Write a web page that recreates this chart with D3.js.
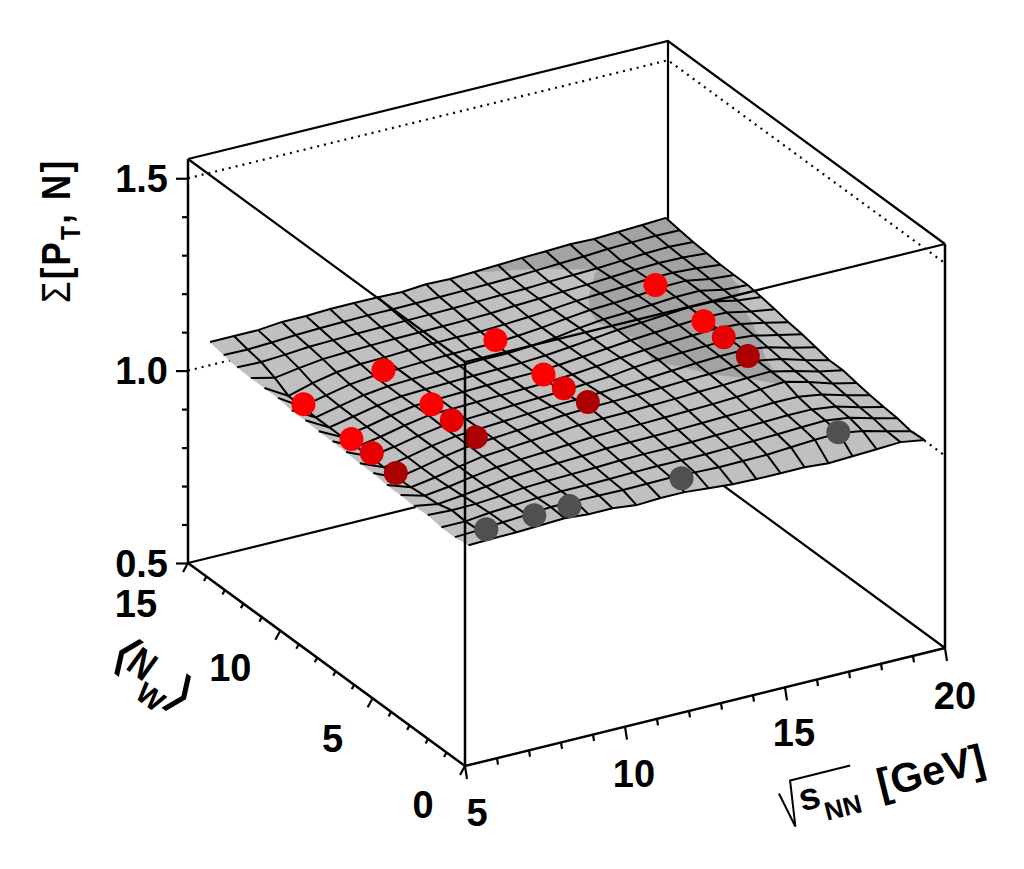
<!DOCTYPE html>
<html>
<head>
<meta charset="utf-8">
<script src="https://cdn.jsdelivr.net/npm/d3@7"></script>
<style>
body { margin: 0; background: #fff; }
text { font-family: "Liberation Sans", Arial, sans-serif; font-weight: bold; fill: #000; }
</style>
</head>
<body>
<div id="graph"></div>
<script>
// surface nodes
const surfaceX = [5.4, 6.15, 6.9, 7.65, 8.4, 9.15, 9.9, 10.65, 11.4, 12.15, 12.9, 13.65, 14.4, 15.15, 15.9, 16.65, 17.4, 18.15, 18.9, 19.65];
const surfaceN = [0.5, 1.24, 1.97, 2.71, 3.45, 4.18, 4.92, 5.66, 6.39, 7.13, 7.87, 8.61, 9.34, 10.08, 10.82, 11.55, 12.29, 13.03, 13.76, 14.5];
// one row per surfaceN value, front row first
const surfaceZ = [
  [1.048, 1.050, 1.051, 1.054, 1.057, 1.052, 1.052, 1.045, 1.048, 1.048, 1.043, 1.038, 1.036, 1.036, 1.036, 1.031, 1.034, 1.037, 1.040, 1.030],
  [1.043, 1.046, 1.051, 1.055, 1.060, 1.060, 1.059, 1.058, 1.059, 1.060, 1.058, 1.056, 1.057, 1.058, 1.062, 1.066, 1.068, 1.058, 1.042, 1.027],
  [1.043, 1.043, 1.050, 1.054, 1.058, 1.060, 1.060, 1.061, 1.063, 1.064, 1.064, 1.064, 1.066, 1.068, 1.070, 1.073, 1.075, 1.067, 1.050, 1.035],
  [1.049, 1.046, 1.047, 1.052, 1.058, 1.061, 1.063, 1.065, 1.068, 1.069, 1.069, 1.070, 1.072, 1.074, 1.076, 1.078, 1.078, 1.070, 1.053, 1.038],
  [1.046, 1.036, 1.043, 1.051, 1.059, 1.063, 1.066, 1.069, 1.073, 1.074, 1.075, 1.076, 1.078, 1.080, 1.082, 1.085, 1.085, 1.075, 1.058, 1.043],
  [1.049, 1.032, 1.040, 1.051, 1.060, 1.065, 1.069, 1.073, 1.077, 1.079, 1.080, 1.082, 1.084, 1.086, 1.089, 1.094, 1.098, 1.082, 1.063, 1.049],
  [1.049, 1.028, 1.038, 1.051, 1.062, 1.067, 1.072, 1.077, 1.082, 1.084, 1.085, 1.087, 1.089, 1.092, 1.094, 1.097, 1.099, 1.085, 1.068, 1.056],
  [1.054, 1.026, 1.038, 1.052, 1.063, 1.068, 1.073, 1.078, 1.083, 1.086, 1.087, 1.089, 1.092, 1.095, 1.097, 1.100, 1.101, 1.090, 1.072, 1.056],
  [1.054, 1.028, 1.039, 1.053, 1.063, 1.067, 1.071, 1.075, 1.079, 1.081, 1.084, 1.087, 1.091, 1.095, 1.099, 1.102, 1.103, 1.095, 1.078, 1.064],
  [1.057, 1.030, 1.040, 1.053, 1.063, 1.066, 1.069, 1.072, 1.075, 1.077, 1.081, 1.085, 1.093, 1.098, 1.101, 1.103, 1.105, 1.099, 1.085, 1.072],
  [1.059, 1.029, 1.040, 1.054, 1.065, 1.067, 1.069, 1.071, 1.073, 1.075, 1.079, 1.085, 1.092, 1.097, 1.101, 1.104, 1.107, 1.103, 1.091, 1.077],
  [1.059, 1.028, 1.040, 1.054, 1.064, 1.067, 1.069, 1.071, 1.073, 1.074, 1.078, 1.084, 1.090, 1.096, 1.101, 1.105, 1.109, 1.107, 1.094, 1.085],
  [1.062, 1.028, 1.041, 1.054, 1.063, 1.066, 1.068, 1.070, 1.072, 1.073, 1.077, 1.083, 1.090, 1.097, 1.101, 1.106, 1.110, 1.110, 1.097, 1.091],
  [1.062, 1.028, 1.042, 1.055, 1.063, 1.066, 1.068, 1.070, 1.072, 1.072, 1.076, 1.082, 1.092, 1.099, 1.102, 1.106, 1.111, 1.112, 1.099, 1.096],
  [1.068, 1.030, 1.044, 1.057, 1.064, 1.066, 1.069, 1.071, 1.072, 1.072, 1.076, 1.082, 1.090, 1.097, 1.100, 1.104, 1.111, 1.112, 1.101, 1.096],
  [1.068, 1.032, 1.050, 1.063, 1.069, 1.071, 1.074, 1.076, 1.077, 1.077, 1.080, 1.084, 1.089, 1.095, 1.099, 1.102, 1.106, 1.107, 1.103, 1.097],
  [1.068, 1.053, 1.063, 1.071, 1.074, 1.076, 1.078, 1.079, 1.080, 1.081, 1.083, 1.087, 1.090, 1.093, 1.096, 1.100, 1.104, 1.106, 1.105, 1.101],
  [1.070, 1.068, 1.072, 1.077, 1.079, 1.081, 1.082, 1.083, 1.084, 1.085, 1.087, 1.089, 1.090, 1.093, 1.095, 1.097, 1.101, 1.105, 1.107, 1.104],
  [1.076, 1.075, 1.078, 1.082, 1.084, 1.086, 1.087, 1.087, 1.088, 1.089, 1.090, 1.091, 1.093, 1.096, 1.099, 1.102, 1.106, 1.108, 1.110, 1.109],
  [1.084, 1.084, 1.084, 1.090, 1.090, 1.093, 1.093, 1.093, 1.091, 1.096, 1.094, 1.097, 1.100, 1.103, 1.105, 1.108, 1.106, 1.109, 1.112, 1.115]
];
const surfaceLevel = 1.097;

// red points: one row per energy, one column per Nw
const redEnergy = [6.3, 8.8, 12.3, 17.3];
const redNw = [11, 8.4, 7.3, 6];
const redColors = ["#ff0000", "#ff0000", "#e60000", "#ab0000"];
const redSigma = [
  [1.027, 1.028, 1.030, 1.024],
  [1.064, 1.067, 1.064, 1.066],
  [1.071, 1.073, 1.076, 1.086],
  [1.112, 1.109, 1.106, 1.103]
];
const grayEnergy = [6.3, 7.8, 8.9, 12.4, 17.3];
const grayNw = 1.1;
const graySigma = [1.05, 1.056, 1.057, 1.058, 1.077];

const xTicks = [5, 10, 15, 20];
const nTicks = [0, 5, 10, 15];
const zTicks = [0.5, 1.0, 1.5];

const width = 1024;
const height = 869;

const svg = d3.select("#graph")
  .append("svg")
  .attr("width", width)
  .attr("height", height);

const xScale = d3.scaleLinear().domain([5, 20]).range([0, 1]);
const nScale = d3.scaleLinear().domain([0, 15]).range([0, 1]);
const zScale = d3.scaleLinear().domain([0.5, 1.55]).range([0, -404]);

// oblique projection of the box, front corner at (465,766)
function project(x, n, z) {
  const u = xScale(x), v = nScale(n);
  return [465 + 480 * u - 277 * v, 766 - 118 * u - 203 * v + zScale(z)];
}

const line = d3.line();

function box(points, width, dash) {
  svg.append("path")
    .attr("d", line(points.map(p => project(p[0], p[1], p[2]))))
    .attr("fill", "none")
    .attr("stroke", "#000")
    .attr("stroke-width", width)
    .attr("stroke-dasharray", dash || null);
}

// back walls
box([[5, 15, 0.5], [20, 15, 0.5], [20, 0, 0.5]], 2.2);
box([[5, 15, 1.55], [20, 15, 1.55], [20, 0, 1.55]], 2.2);
box([[20, 15, 0.5], [20, 15, 1.55]], 2.2);
box([[20, 0, 0.5], [20, 0, 1.55]], 2.5);
box([[5, 15, 0.5], [5, 15, 1.55]], 2.5);
box([[5, 15, 0.5], [5, 0, 0.5], [20, 0, 0.5]], 2.5);
zTicks.slice(1).forEach(z => {
  box([[5, 15, z], [20, 15, z], [20, 0, z]], 2.2, "2 5");
});

// part of a cell above the level
function clipAbove(corners) {
  const out = [];
  corners.forEach((a, k) => {
    const b = corners[(k + 1) % corners.length];
    if (a[2] >= surfaceLevel) out.push(a);
    if ((a[2] >= surfaceLevel) !== (b[2] >= surfaceLevel)) {
      const t = (surfaceLevel - a[2]) / (b[2] - a[2]);
      out.push([a[0] + t * (b[0] - a[0]), a[1] + t * (b[1] - a[1]), surfaceLevel]);
    }
  });
  return out;
}

const surface = svg.append("g");
for (let j = surfaceN.length - 2; j >= 0; j--) {
  for (let i = surfaceX.length - 2; i >= 0; i--) {
    const corners = [[i, j], [i + 1, j], [i + 1, j + 1], [i, j + 1]]
      .map(c => [surfaceX[c[0]], surfaceN[c[1]], surfaceZ[c[1]][c[0]]]);
    surface.append("path")
      .attr("d", line(corners.map(c => project(c[0], c[1], c[2]))) + "Z")
      .attr("fill", "#c0c0c0")
      .attr("stroke", "#c0c0c0")
      .attr("stroke-width", 0.6);
    const upper = clipAbove(corners);
    if (upper.length > 2) {
      surface.append("path")
        .attr("d", line(upper.map(c => project(c[0], c[1], c[2]))) + "Z")
        .attr("fill", "#a3a3a3")
        .attr("stroke", "#a3a3a3")
        .attr("stroke-width", 0.6);
    }
  }
}
// mesh, the left edge of the surface has no line
surfaceN.forEach((n, j) => {
  surface.append("path")
    .attr("d", line(surfaceX.map((x, i) => project(x, n, surfaceZ[j][i]))))
    .attr("fill", "none").attr("stroke", "#000").attr("stroke-width", 2);
});
surfaceX.forEach((x, i) => {
  if (i === 0) return;
  surface.append("path")
    .attr("d", line(surfaceN.map((n, j) => project(x, n, surfaceZ[j][i]))))
    .attr("fill", "none").attr("stroke", "#000").attr("stroke-width", 2);
});

// points
const pointRadius = 12;
redEnergy.forEach((e, r) => {
  redNw.forEach((n, c) => {
    const p = project(e, n, redSigma[r][c]);
    svg.append("circle")
      .attr("cx", p[0]).attr("cy", p[1]).attr("r", pointRadius)
      .attr("fill", redColors[c]);
  });
});
grayEnergy.forEach((e, k) => {
  const p = project(e, grayNw, graySigma[k]);
  svg.append("circle")
    .attr("cx", p[0]).attr("cy", p[1]).attr("r", pointRadius)
    .attr("fill", "#505050");
});

// front edges go over the surface
box([[5, 15, 1.55], [5, 0, 1.55], [20, 0, 1.55]], 2.2);
box([[5, 0, 0.5], [5, 0, 1.55]], 2.5);

// z axis
const zOrigin = project(5, 15, 0.5);
const zAxis = svg.append("g")
  .attr("transform", `translate(${zOrigin[0]},${zOrigin[1]})`);
zAxis.call(d3.axisLeft(zScale)
  .tickValues(d3.range(0.5, 1.51, 0.1))
  .tickSize(6)
  .tickSizeOuter(0)
  .tickFormat(""));
zAxis.selectAll(".tick line")
  .attr("stroke-width", 2.2)
  .filter(d => Math.abs(d * 2 - Math.round(d * 2)) < 1e-6)
  .attr("x2", -12);
zAxis.select(".domain").attr("stroke", "none");
zTicks.forEach(z => {
  const p = project(5, 15, z);
  svg.append("text")
    .attr("x", p[0] - 20).attr("y", p[1] + 13.5)
    .attr("text-anchor", "end")
    .attr("font-size", 38)
    .text(z.toFixed(1));
});

// floor axes, ticks are slanted
function floorTicks(values, pos, dx, dy) {
  values.forEach(v => {
    const p = pos(v);
    const major = v % 5 === 0 ? 1 : 0.5;
    svg.append("line")
      .attr("x1", p[0]).attr("y1", p[1])
      .attr("x2", p[0] + dx * major).attr("y2", p[1] + dy * major)
      .attr("stroke", "#000").attr("stroke-width", 2.2);
  });
}
floorTicks(d3.range(5, 21), x => project(x, 0, 0.5), 2, 13);
floorTicks(d3.range(0, 16), n => project(5, n, 0.5), -5, 9);

const xLabelOffset = [[12, 46], [9, 47], [9, 45], [10, 47]];
xTicks.forEach((x, k) => {
  const p = project(x, 0, 0.5);
  svg.append("text")
    .attr("x", p[0] + xLabelOffset[k][0]).attr("y", p[1] + xLabelOffset[k][1] + 13.5)
    .attr("text-anchor", "middle")
    .attr("font-size", 38)
    .text(x);
});
const nLabelOffset = [[-42, 38], [-40, 40], [-50, 37], [-52, 40]];
nTicks.forEach((n, k) => {
  const p = project(5, n, 0.5);
  svg.append("text")
    .attr("x", p[0] + nLabelOffset[k][0]).attr("y", p[1] + nLabelOffset[k][1] + 13.5)
    .attr("text-anchor", "middle")
    .attr("font-size", 38)
    .text(n);
});

// z title
const zTitle = svg.append("text")
  .attr("transform", "translate(70,303) rotate(-90) scale(0.85,1)")
  .attr("font-size", 41)
  .style("letter-spacing", "2.6px");
zTitle.append("tspan").attr("font-weight", "normal").text("Σ");
zTitle.append("tspan").text("[P");
zTitle.append("tspan").attr("font-size", 27).attr("dy", 10).text("T");
zTitle.append("tspan").attr("dy", -10).text(", N]");

// Nw title
const nTitle = svg.append("g").attr("transform", "translate(143,663) rotate(36)");
nTitle.append("text")
  .attr("transform", "scale(0.8,1)")
  .attr("y", 15)
  .attr("text-anchor", "middle")
  .attr("font-size", 41)
  .text("N");
nTitle.append("text")
  .attr("x", 26).attr("y", 33)
  .attr("text-anchor", "middle")
  .attr("font-size", 29)
  .text("W");
nTitle.append("text")
  .attr("transform", "translate(-19,19) scale(1.4,1)")
  .attr("text-anchor", "middle")
  .attr("font-size", 48)
  .style("font-family", "DejaVu Sans").style("font-weight", "normal")
  .text("⟨");
nTitle.append("text")
  .attr("transform", "translate(49,19) scale(1.4,1)")
  .attr("text-anchor", "middle")
  .attr("font-size", 48)
  .style("font-family", "DejaVu Sans").style("font-weight", "normal")
  .text("⟩");

// x title
const xTitle = svg.append("g").attr("transform", "translate(800,812) rotate(-14)");
xTitle.append("path")
  .attr("d", "M-16,-23L-8,13L-2,-33L60,-33")
  .attr("fill", "none").attr("stroke", "#000").attr("stroke-width", 2);
xTitle.append("text").attr("x", 2).attr("font-size", 38).text("s");
xTitle.append("text").attr("x", 24).attr("y", 15).attr("font-size", 26).text("NN");
xTitle.append("text").attr("x", 82).attr("y", 6).attr("font-size", 41).text("[GeV]");
</script>
</body>
</html>
